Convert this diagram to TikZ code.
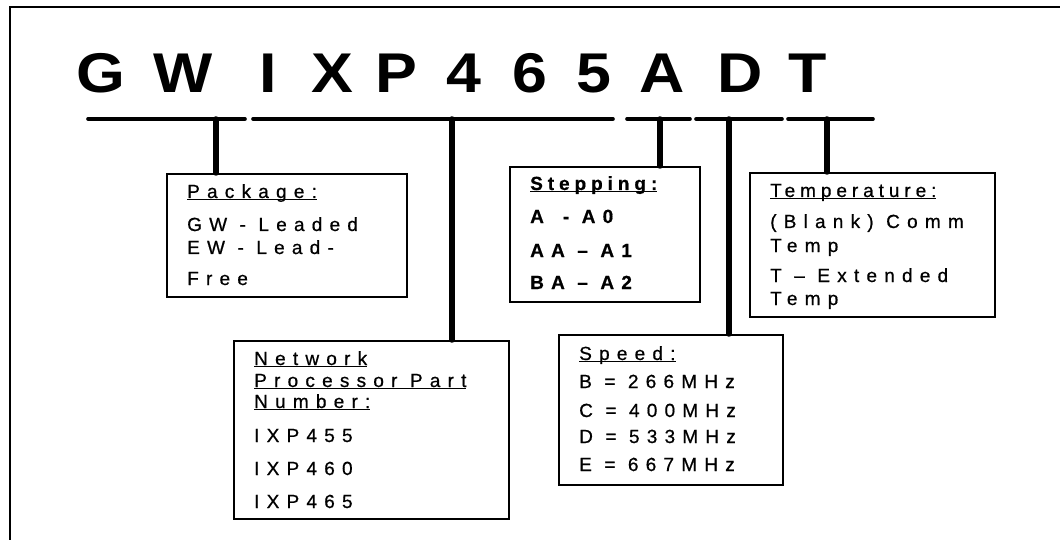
\documentclass[tikz,border=0pt]{standalone}
\usepackage{fontspec}
\usepackage{graphicx}
\setmainfont{Liberation Sans}
\newfontfamily\bodyfont[LetterSpace=38,FakeBold=0.7]{Liberation Sans}
\newfontfamily\tightfont[LetterSpace=26,FakeBold=0.7]{Liberation Sans}
\begin{document}
\begin{tikzpicture}[x=1pt,y=-1pt,
  frame/.style={line width=2.6pt},
  bar/.style={line width=3.6pt,line cap=round},
  stem/.style={line width=5.5pt,line cap=round},
  box/.style={draw,line width=1.8pt,rectangle,inner sep=0pt,anchor=north west},
  title/.style={anchor=base,inner sep=0pt,font=\fontsize{56}{60}\selectfont\bfseries},
  txt/.style={anchor=base west,inner sep=0pt,font=\bodyfont\fontsize{19}{22}\selectfont}]
\useasboundingbox (0,0) rectangle (1060,540);
% outer frame
\draw[frame] (10,540) -- (10,7) -- (1060,7);
% title letters
\foreach \l/\x/\n in {G/101/tG,W/183.5/tW,I/268/tI,X/332/tX,P/396.5/tP,4/463.5/t4,6/530/t6,5/594/t5,A/662.5/tA,D/740/tD,T/807.5/tT}
  \node[title] (\n) at (\x,93) {\scalebox{1.12}[1]{\l}};
% bars
\coordinate (b1l) at (88,119);  \coordinate (b1r) at (245,119);
\coordinate (b2l) at (253,119); \coordinate (b2r) at (613,119);
\coordinate (b3l) at (627,119); \coordinate (b3r) at (690,119);
\coordinate (b4l) at (696,119); \coordinate (b4r) at (782,119);
\coordinate (b5l) at (788,119); \coordinate (b5r) at (873,119);
\foreach \i in {1,...,5} \draw[bar] (b\i l) -- (b\i r);
% stem points
\coordinate (s1) at (216,119);
\coordinate (s2) at (452,119);
\coordinate (s3) at (660,119);
\coordinate (s4) at (729,119);
\coordinate (s5) at (827,119);
% boxes
\node[box,minimum width=240pt,minimum height=123pt] (pkg) at (166,173) {};
\node[box,minimum width=190pt,minimum height=135pt] (step) at (509,166) {};
\node[box,minimum width=245pt,minimum height=144pt] (temp) at (749,172) {};
\node[box,minimum width=275pt,minimum height=178pt] (net) at (233,340) {};
\node[box,minimum width=224pt,minimum height=150pt] (speed) at (558,334) {};
% stems
\draw[stem] (s1) -- (s1 |- pkg.north);
\draw[stem] (s2) -- (s2 |- net.north);
\draw[stem] (s3) -- (s3 |- step.north);
\draw[stem] (s4) -- (s4 |- speed.north);
\draw[stem] (s5) -- (s5 |- temp.north);
% package
\node[txt] (pk1) at (187,198) {\underline{\smash{Package:}}};
\node[txt] (pk2) at (187,231) {GW - Leaded};
\node[txt] (pk3) at (187,254) {EW - Lead-};
\node[txt] (pk4) at (187,285) {Free};
% stepping
\node[txt] (st1) at (530,190) {\tightfont\bfseries\underline{\smash{Stepping:}}};
\node[txt] (st2) at (530,223) {\bfseries A\quad- A0};
\node[txt] (st3) at (530,257) {\bfseries AA – A1};
\node[txt] (st4) at (530,289) {\bfseries BA – A2};
% temperature
\node[txt] (te1) at (770,197) {\tightfont\underline{\smash{Temperature:}}};
\node[txt] (te2) at (770,228) {(Blank) Comm};
\node[txt] (te3) at (770,252) {Temp};
\node[txt] (te4) at (770,282) {T – Extended};
\node[txt] (te5) at (770,305) {Temp};
% network
\node[txt] (ne1) at (254,365) {\underline{\smash{Network}}};
\node[txt] (ne2) at (254,387) {\underline{\smash{Processor Part}}};
\node[txt] (ne3) at (254,408) {\underline{\smash{Number:}}};
\node[txt] (ne4) at (254,442) {IXP455};
\node[txt] (ne5) at (254,475) {IXP460};
\node[txt] (ne6) at (254,508) {IXP465};
% speed
\node[txt] (sp1) at (579,360) {\underline{\smash{Speed:}}};
\node[txt] (sp2) at (579,388) {B = 266MHz};
\node[txt] (sp3) at (579,417) {C = 400MHz};
\node[txt] (sp4) at (579,443) {D = 533MHz};
\node[txt] (sp5) at (579,471) {E = 667MHz};
\end{tikzpicture}
\end{document}
